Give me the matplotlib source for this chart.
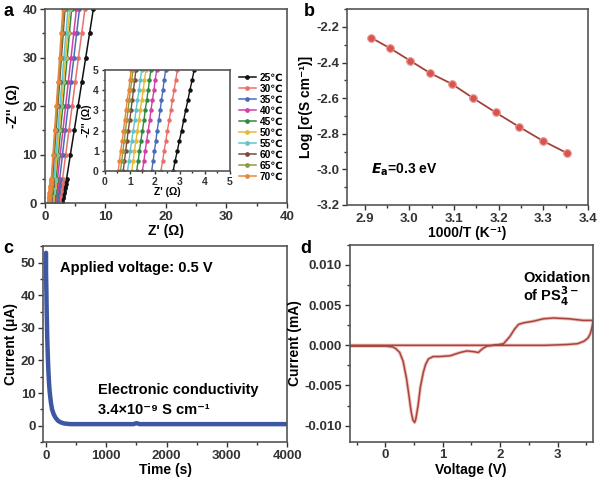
import numpy as np
import matplotlib
matplotlib.use('Agg')
import matplotlib.pyplot as plt
from matplotlib.ticker import MultipleLocator, FormatStrFormatter

plt.rcParams['font.family'] = ['Liberation Sans', 'DejaVu Sans']
plt.rcParams['font.weight'] = 'bold'
plt.rcParams['axes.labelweight'] = 'bold'
plt.rcParams['axes.edgecolor'] = '#555555'
plt.rcParams['axes.linewidth'] = 1.2
plt.rcParams['xtick.color'] = '#333333'
plt.rcParams['ytick.color'] = '#333333'

# --- panel a: Nyquist plots (Z' at shared -Z'' values) ---
temps = ['25℃', '30℃', '35℃', '40℃', '45℃', '50℃', '55℃', '60℃', '65℃', '70℃']
colors = ['#111111', '#e8716b', '#4a6cb8', '#d23fa5', '#2f8a40',
          '#e6b93a', '#5ec6cc', '#7a4a3c', '#8c9c3a', '#e8863a']
zim = [0, 0.5, 1, 1.5, 2, 2.5, 3, 3.5, 4, 4.5, 5, 10, 15, 20, 25, 30, 35, 40]
zre_25 = [2.73, 2.81, 2.90, 2.98, 3.07, 3.15, 3.23, 3.32, 3.40, 3.49, 3.57, 4.20, 4.84, 5.47, 6.10, 6.74, 7.37, 8.00]
zre_30 = [2.24, 2.31, 2.37, 2.44, 2.50, 2.57, 2.64, 2.70, 2.77, 2.83, 2.90, 3.43, 3.96, 4.49, 5.01, 5.54, 6.07, 6.60]
zre_35 = [1.87, 1.93, 1.98, 2.04, 2.09, 2.15, 2.21, 2.26, 2.32, 2.37, 2.43, 2.90, 3.36, 3.83, 4.30, 4.77, 5.23, 5.70]
zre_40 = [1.50, 1.56, 1.61, 1.67, 1.73, 1.79, 1.84, 1.90, 1.96, 2.01, 2.07, 2.52, 2.96, 3.41, 3.86, 4.31, 4.75, 5.20]
zre_45 = [1.27, 1.33, 1.38, 1.44, 1.50, 1.56, 1.61, 1.67, 1.73, 1.78, 1.84, 2.21, 2.57, 2.94, 3.30, 3.67, 4.03, 4.40]
zre_50 = [1.07, 1.13, 1.18, 1.24, 1.30, 1.36, 1.41, 1.47, 1.53, 1.58, 1.64, 1.99, 2.34, 2.69, 3.05, 3.40, 3.75, 4.10]
zre_55 = [0.90, 0.96, 1.01, 1.07, 1.13, 1.19, 1.24, 1.30, 1.36, 1.41, 1.47, 1.80, 2.14, 2.47, 2.80, 3.13, 3.47, 3.80]
zre_60 = [0.73, 0.78, 0.83, 0.88, 0.93, 0.99, 1.04, 1.09, 1.14, 1.19, 1.24, 1.53, 1.83, 2.12, 2.42, 2.71, 3.01, 3.30]
zre_65 = [0.62, 0.67, 0.72, 0.77, 0.82, 0.87, 0.92, 0.97, 1.02, 1.07, 1.12, 1.41, 1.70, 1.99, 2.28, 2.57, 2.86, 3.15]
zre_70 = [0.53, 0.58, 0.63, 0.69, 0.74, 0.79, 0.84, 0.89, 0.95, 1.00, 1.05, 1.32, 1.59, 1.86, 2.14, 2.41, 2.68, 2.95]
zre_all = [zre_25, zre_30, zre_35, zre_40, zre_45, zre_50, zre_55, zre_60, zre_65, zre_70]

# --- panel b: Arrhenius plot ---
inv_t = [2.914, 2.957, 3.002, 3.047, 3.095, 3.143, 3.193, 3.245, 3.299, 3.354]
log_sigma = [-2.26, -2.32, -2.39, -2.46, -2.52, -2.60, -2.68, -2.76, -2.84, -2.91]

# --- panel c: DC polarization ---
time_s = [0, 0, 0, 5, 10, 20, 30, 40, 50, 60, 80, 100, 130, 160, 200, 250, 300, 400,
          600, 1000, 1450, 1500, 1550, 2000, 2500, 3000, 3500, 4000]
current_ua = [53, 50, 47, 42, 36, 27, 21, 16.5, 13, 10.5, 7.2, 5.0, 3.4, 2.4, 1.5, 1.0, 0.7, 0.5,
              0.5, 0.5, 0.5, 0.8, 0.5, 0.5, 0.5, 0.5, 0.5, 0.5]

# --- panel d: CV ---
volt = [3.62, 3.45, 3.2, 2.93, 2.75, 2.58, 2.41, 2.32, 2.25, 2.17, 2.06, 1.9, 1.77, 1.72, 1.68, 1.62,
        1.55, 1.42, 1.3, 1.13, 0.95, 0.83, 0.75, 0.70, 0.66, 0.61, 0.57, 0.53, 0.51, 0.48, 0.45,
        0.41, 0.37, 0.31, 0.25, 0.18, 0.13, 0.0, -0.33, -0.62,
        -0.62, 0.0, 1.0, 2.0, 2.8, 3.17, 3.35, 3.46, 3.53, 3.57, 3.6, 3.62]
curr_ma = [0.0031, 0.0031, 0.0033, 0.0034, 0.0033, 0.0030, 0.0028, 0.0026, 0.0020, 0.0011, 0.0002,
           0.0000, -0.0001, -0.0003, -0.0005, -0.0009, -0.0008, -0.0007, -0.0009, -0.0013, -0.0014,
           -0.0014, -0.0017, -0.0024, -0.0034, -0.0052, -0.0075, -0.0092, -0.0096, -0.0093, -0.0083,
           -0.0062, -0.0042, -0.0020, -0.0009, -0.0004, -0.0002, -0.0001, -0.0001, -0.0001,
           0.0000, 0.0000, 0.0000, 0.0000, 0.0000, 0.0001, 0.0002, 0.0005, 0.0009, 0.0014, 0.0022, 0.0030]

fig = plt.figure(figsize=(6, 4.8), dpi=100)

TICK_FS = 9.5
LAB_FS = 10
TXT_FS = 10.5

def style(ax, fs=TICK_FS):
    ax.tick_params(which='both', direction='out', labelsize=fs, width=1, pad=2)
    ax.tick_params(which='major', length=3.5)
    ax.tick_params(which='minor', length=2)
    for lab in ax.get_xticklabels() + ax.get_yticklabels():
        lab.set_fontweight('bold')

# panel a
axa = fig.add_axes([0.075, 0.577, 0.403, 0.404])
for zre, c, lab in zip(zre_all, colors, temps):
    axa.plot(zre, zim, '-o', color=c, lw=1.1, ms=2.4, label=lab)
axa.set_xlim(0, 40)
axa.set_ylim(0, 40)
axa.xaxis.set_major_locator(MultipleLocator(10))
axa.xaxis.set_minor_locator(MultipleLocator(5))
axa.yaxis.set_major_locator(MultipleLocator(10))
axa.yaxis.set_minor_locator(MultipleLocator(5))
axa.set_xlabel("Z' (Ω)", fontsize=LAB_FS, labelpad=1)
axa.set_ylabel("-Z'' (Ω)", fontsize=LAB_FS, labelpad=2)
style(axa)
axa.legend(loc='upper left', bbox_to_anchor=(0.78, 0.70), frameon=False,
           handlelength=1.7, handletextpad=0.35, labelspacing=0.1, borderpad=0,
           prop={'weight': 'bold', 'size': 7.3})

axi = fig.add_axes([0.175, 0.644, 0.208, 0.21])
for zre, c in zip(zre_all, colors):
    axi.plot(zre, zim, '-o', color=c, lw=1.0, ms=2.2)
axi.set_xlim(0, 5)
axi.set_ylim(0, 5)
axi.xaxis.set_major_locator(MultipleLocator(1))
axi.xaxis.set_minor_locator(MultipleLocator(0.5))
axi.yaxis.set_major_locator(MultipleLocator(1))
axi.yaxis.set_minor_locator(MultipleLocator(0.5))
axi.set_xlabel("Z' (Ω)", fontsize=7.5, labelpad=0)
axi.set_ylabel("-Z'' (Ω)", fontsize=7.5, labelpad=1)
style(axi, 7.5)
axi.tick_params(which='major', length=2.5)
axi.tick_params(which='minor', length=1.5)

# panel b
axb = fig.add_axes([0.578, 0.573, 0.402, 0.408])
axb.plot(inv_t, log_sigma, '-', color='#a5423c', lw=1.3)
axb.plot(inv_t, log_sigma, 'o', color='#d9534f', mec='#e89a96', ms=5.5, mew=0.8)
axb.set_xlim(2.86, 3.4)
axb.set_ylim(-3.2, -2.1)
axb.xaxis.set_major_locator(MultipleLocator(0.1))
axb.xaxis.set_minor_locator(MultipleLocator(0.05))
axb.yaxis.set_major_locator(MultipleLocator(0.2))
axb.yaxis.set_minor_locator(MultipleLocator(0.1))
axb.xaxis.set_major_formatter(FormatStrFormatter('%.1f'))
axb.yaxis.set_major_formatter(FormatStrFormatter('%.1f'))
axb.set_xlabel('1000/T (K⁻¹)', fontsize=LAB_FS, labelpad=1)
axb.set_ylabel('Log [σ(S cm⁻¹)]', fontsize=LAB_FS, labelpad=2)
style(axb)
axb.text(0.10, 0.16, '$\\mathbfit{E}_{\\mathbf{a}}$=0.3 eV', transform=axb.transAxes,
         fontsize=10, fontweight='bold')

# panel c
axc = fig.add_axes([0.0717, 0.079, 0.407, 0.408])
axc.plot(time_s, current_ua, '-', color='#3d57a3', lw=3.2, solid_capstyle='round')
axc.set_xlim(-50, 4000)
axc.set_ylim(-5, 55)
axc.xaxis.set_major_locator(MultipleLocator(1000))
axc.xaxis.set_minor_locator(MultipleLocator(500))
axc.yaxis.set_major_locator(MultipleLocator(10))
axc.yaxis.set_minor_locator(MultipleLocator(5))
axc.set_xlabel('Time (s)', fontsize=LAB_FS, labelpad=1)
axc.set_ylabel('Current (μA)', fontsize=LAB_FS, labelpad=2)
style(axc)
axc.text(0.07, 0.87, 'Applied voltage: 0.5 V', transform=axc.transAxes, fontsize=TXT_FS, fontweight='bold')
axc.text(0.225, 0.245, 'Electronic conductivity', transform=axc.transAxes, fontsize=TXT_FS, fontweight='bold')
axc.text(0.225, 0.145, '3.4×10⁻⁹ S cm⁻¹', transform=axc.transAxes,
         fontsize=TXT_FS, fontweight='bold')

# panel d
axd = fig.add_axes([0.583, 0.0798, 0.4045, 0.41])
axd.plot(volt, curr_ma, '-', color='#e9a09a', lw=2.4, alpha=0.7)
axd.plot(volt, curr_ma, '-', color='#a8463e', lw=1.1)
axd.set_xlim(-0.62, 3.61)
axd.set_ylim(-0.012, 0.0125)
axd.xaxis.set_major_locator(MultipleLocator(1))
axd.xaxis.set_minor_locator(MultipleLocator(0.5))
axd.yaxis.set_major_locator(MultipleLocator(0.005))
axd.yaxis.set_minor_locator(MultipleLocator(0.0025))
axd.yaxis.set_major_formatter(FormatStrFormatter('%.3f'))
axd.set_xlabel('Voltage (V)', fontsize=LAB_FS, labelpad=1)
axd.set_ylabel('Current (mA)', fontsize=LAB_FS, labelpad=2)
style(axd)
axd.text(0.715, 0.81, 'Oxidation', transform=axd.transAxes, fontsize=TXT_FS, fontweight='bold')
axd.text(0.715, 0.71, 'of PS$_{\\mathbf{4}}^{\\mathbf{3-}}$', transform=axd.transAxes,
         fontsize=TXT_FS, fontweight='bold')

# panel letters
fig.text(0.005, 0.975, 'a', fontsize=13, fontweight='bold', va='center')
fig.text(0.507, 0.975, 'b', fontsize=13, fontweight='bold', va='center')
fig.text(0.005, 0.483, 'c', fontsize=13, fontweight='bold', va='center')
fig.text(0.500, 0.483, 'd', fontsize=13, fontweight='bold', va='center')

fig.savefig('out.png', dpi=100)
